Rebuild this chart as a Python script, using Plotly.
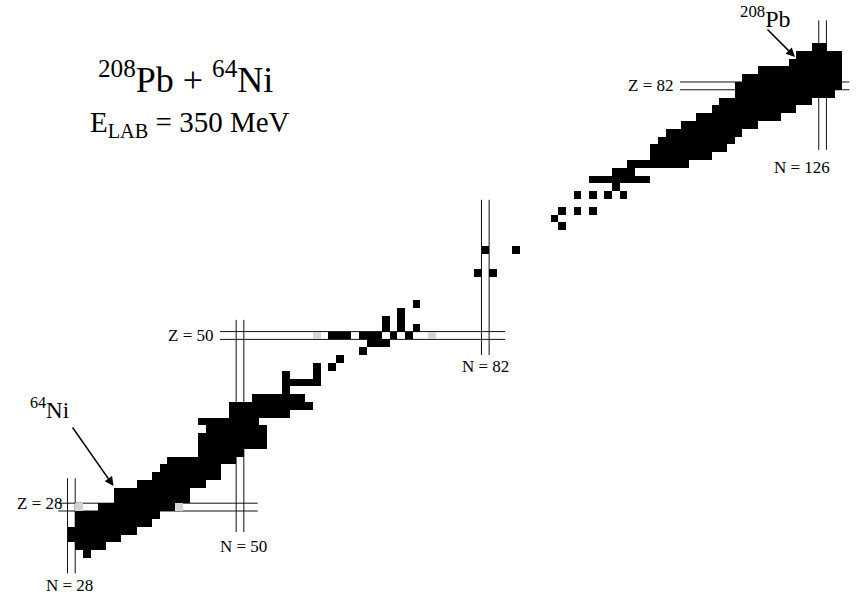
import numpy as np
import plotly.graph_objects as go

# ---- data: observed nuclides as row segments (Z, N from, N to) ----
seg_Z = [22, 23, 24, 25, 26, 27, 28, 29, 30, 31, 32, 33, 34, 35, 36, 37, 38, 39, 40, 41, 42,
         43, 44, 45, 45, 46, 46, 47, 48, 49, 50, 50, 50, 50, 51, 51, 51, 52, 52, 53, 54,
         58, 58, 61, 61, 64, 65, 66, 66, 66, 68, 68, 68, 68, 69, 70, 71, 72, 73, 74, 75,
         76, 77, 78, 79, 80, 81, 82, 83, 84, 85, 86, 87]
seg_N_lo = [30, 29, 28, 28, 29, 29, 32, 34, 34, 37, 39, 40, 41, 45, 45, 45, 46, 45, 49, 49, 52,
            56, 56, 56, 60, 60, 62, 63, 66, 67, 62, 66, 70, 72, 69, 71, 73, 69, 71, 71, 73,
            81, 83, 82, 86, 92, 91, 92, 94, 96, 94, 96, 98, 100, 99, 96, 99, 101, 104, 104, 105,
            106, 108, 110, 112, 113, 115, 115, 116, 118, 122, 123, 125]
seg_N_hi = [30, 32, 34, 36, 38, 39, 41, 43, 43, 45, 47, 47, 49, 50, 53, 53, 53, 52, 56, 59, 58,
            56, 60, 56, 60, 60, 62, 63, 66, 69, 64, 68, 70, 72, 69, 71, 73, 69, 71, 71, 73,
            81, 83, 82, 86, 92, 91, 92, 94, 96, 94, 96, 98, 100, 99, 103, 101, 108, 111, 113, 114,
            115, 117, 120, 122, 124, 127, 128, 128, 128, 128, 128, 126]

# faint grey cells (scan shading)
grey_N = [29, 42, 60, 75]
grey_Z = [28, 28, 50, 50]

# magic numbers: vertical (N) and horizontal (Z) double lines with their extents
magic_N = [28, 50, 82, 126]
magic_N_Zlo = [19.5, 24.8, 47.5, 73.8]
magic_N_Zhi = [31.7, 52.0, 67.4, 90.4]
magic_Z = [28, 50, 82]
magic_Z_Nlo = [26.3, 47.4, 107.4]
magic_Z_Nhi = [52.3, 84.6, 129.5]

# ---- grid ----
N_vals = np.arange(19, 131)
Z_vals = np.arange(17, 93)
grid = np.full((len(Z_vals), len(N_vals)), np.nan)
for gz, gn in zip(grey_Z, grey_N):
    grid[gz - Z_vals[0], gn - N_vals[0]] = 0.5
for z, lo, hi in zip(seg_Z, seg_N_lo, seg_N_hi):
    for n in range(lo, hi + 1):
        grid[z - Z_vals[0], n - N_vals[0]] = 1.0

zlist = [[None if np.isnan(v) else float(v) for v in row] for row in grid]

fig = go.Figure()
fig.add_trace(go.Heatmap(
    x=N_vals, y=Z_vals, z=zlist, zmin=0, zmax=1,
    colorscale=[[0, "#ffffff"], [0.5, "#d4d4d4"], [1, "#000000"]],
    showscale=False, hoverinfo="skip",
))

shapes = []
for n, lo, hi in zip(magic_N, magic_N_Zlo, magic_N_Zhi):
    for off in (-0.5, 0.5):
        shapes.append(dict(type="line", xref="x", yref="y", x0=n + off, x1=n + off, y0=lo, y1=hi,
                           line=dict(color="#111111", width=1), layer="below"))
for zz, lo, hi in zip(magic_Z, magic_Z_Nlo, magic_Z_Nhi):
    for off in (-0.5, 0.5):
        shapes.append(dict(type="line", xref="x", yref="y", x0=lo, x1=hi, y0=zz + off, y1=zz + off,
                           line=dict(color="#111111", width=1), layer="below"))

serif = "Liberation Serif, Times New Roman, serif"
small = dict(family=serif, size=17, color="#000")
ann = []
labels = [("Z = 82", 103.6, 82.0), ("N = 126", 123.3, 71.5), ("Z = 50", 43.5, 50.0),
          ("N = 82", 82.0, 46.0), ("Z = 28", 23.9, 28.4), ("N = 50", 50.4, 23.0),
          ("N = 28", 27.8, 18.0)]
for t, x, y in labels:
    ann.append(dict(text=t, x=x, y=y, xref="x", yref="y", showarrow=False, font=small,
                    xanchor="center", yanchor="middle"))

ann.append(dict(text="<sup>208</sup>Pb", x=118.5, y=90.8, xref="x", yref="y", showarrow=False,
                xanchor="center", yanchor="middle",
                font=dict(family=serif, size=24, color="#000")))
ann.append(dict(text="<sup>64</sup>Ni", x=25.2, y=40.7, xref="x", yref="y", showarrow=False,
                xanchor="center", yanchor="middle",
                font=dict(family=serif, size=23, color="#000")))
# arrows
ann.append(dict(text="", x=33.5, y=30.7, xref="x", yref="y", showarrow=True, ax=-42, ay=-60,
                arrowhead=2, arrowsize=1.2, arrowwidth=1.5, arrowcolor="#000", standoff=0))
ann.append(dict(text="", x=122.4, y=85.7, xref="x", yref="y", showarrow=True, ax=-29, ay=-29,
                arrowhead=2, arrowsize=1.2, arrowwidth=1.5, arrowcolor="#000", standoff=0))

ann.append(dict(text="<sup>208</sup>Pb + <sup>64</sup>Ni", x=185 / 858, y=1 - 78 / 594,
                xref="paper", yref="paper", showarrow=False, xanchor="center", yanchor="middle",
                font=dict(family=serif, size=36, color="#000")))
ann.append(dict(text="E<sub>LAB</sub> = 350 MeV", x=190 / 858, y=1 - 124 / 594,
                xref="paper", yref="paper", showarrow=False, xanchor="center", yanchor="middle",
                font=dict(family=serif, size=29, color="#000")))

fig.update_layout(
    width=858, height=594, margin=dict(l=0, r=0, t=0, b=0),
    paper_bgcolor="white", plot_bgcolor="white",
    xaxis=dict(range=[18.69, 130.62], visible=False, fixedrange=True),
    yaxis=dict(range=[16.86, 93.01], visible=False, fixedrange=True),
    shapes=shapes, annotations=ann, showlegend=False,
)
fig.write_html("out.html")
